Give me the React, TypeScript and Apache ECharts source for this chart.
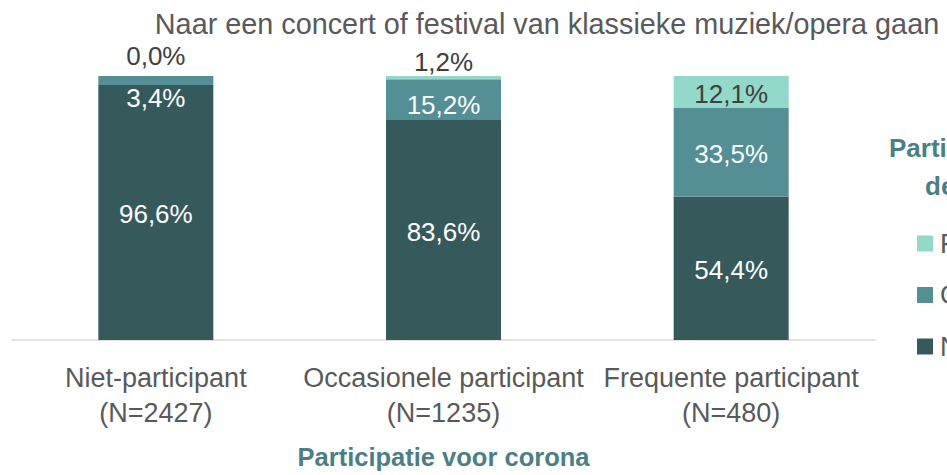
import React, { useEffect, useRef } from "react";
import * as echarts from "echarts";

const categories = ["Niet-participant\n(N=2427)", "Occasionele participant\n(N=1235)", "Frequente participant\n(N=480)"];
const seriesNames = ["Niet-participant", "Occasionele participant", "Frequente participant"];
const nietValues = [96.6, 83.6, 54.4];
const occasioneelValues = [3.4, 15.2, 33.5];
const frequentValues = [0.0, 1.2, 12.1];
const titleText = "Naar een concert of festival van klassieke muziek/opera gaan";
const xAxisTitle = "Participatie voor corona";
const legendTitleLines = ["Participatie", "deze zomer"];

const COLORS = ["#365a5c", "#558f96", "#92d9c9"];
const FONT = "'Liberation Sans', Arial, sans-serif";

const fmt = (v: number) => v.toFixed(1).replace(".", ",") + "%";

// label offsets per series, per category (styling, not data)
const labelOffsets = [
  [2, 2, 2],
  [18, 6, 1.5],
  [-20, -16, 2],
];
const labelColors = ["#ffffff", "#ffffff", "#404040"];

export default function App() {
  const ref = useRef<HTMLDivElement>(null);
  useEffect(() => {
    document.body.style.margin = "0";
    if (!ref.current) return;
    const chart = echarts.init(ref.current, undefined, { renderer: "svg" });
    const allValues = [nietValues, occasioneelValues, frequentValues];
    const series = allValues.map((vals, si) => ({
      name: seriesNames[si],
      type: "bar",
      stack: "total",
      barWidth: 115,
      itemStyle: { color: COLORS[si] },
      data: vals.map((v, ci) => ({
        value: v,
        label: {
          show: true,
          position: "inside",
          offset: [0, labelOffsets[si][ci]],
          color: labelColors[si],
          fontSize: 26,
          fontFamily: FONT,
          formatter: () => fmt(v),
        },
      })),
    }));

    chart.setOption({
      animation: false,
      textStyle: { fontFamily: FONT },
      grid: { left: 12, right: 72, top: 76, bottom: 130, containLabel: false },
      xAxis: {
        type: "category",
        data: categories,
        axisLine: { show: true, lineStyle: { color: "#d9d9d9", width: 1.5 } },
        axisTick: { show: false },
        axisLabel: {
          fontSize: 27,
          lineHeight: 35,
          color: "#595959",
          margin: 20,
          fontFamily: FONT,
          interval: 0,
        },
        name: xAxisTitle,
        nameLocation: "middle",
        nameGap: 104,
        nameTextStyle: {
          fontSize: 25.5,
          fontWeight: "bold",
          color: "#4a7f85",
          fontFamily: FONT,
        },
      },
      yAxis: {
        type: "value",
        min: 0,
        max: 100,
        show: false,
        splitLine: { show: false },
      },
      legend: {
        orient: "vertical",
        left: 917,
        top: 230,
        padding: 0,
        itemWidth: 16,
        itemHeight: 16,
        itemGap: 24.5,
        icon: "rect",
        data: [seriesNames[2], seriesNames[1], seriesNames[0]],
        textStyle: { fontSize: 27, color: "#595959", fontFamily: FONT, padding: [0, 0, 0, 2] },
      },
      graphic: [
        {
          type: "text",
          x: 547,
          y: 24,
          style: {
            text: titleText,
            fontSize: 28.8,
            fill: "#595959",
            fontFamily: FONT,
            align: "center",
            verticalAlign: "middle",
          },
        },
        {
          type: "text",
          x: 889,
          y: 148,
          style: {
            text: legendTitleLines[0],
            fontSize: 26,
            fontWeight: "bold",
            fill: "#4a7f85",
            fontFamily: FONT,
            align: "left",
            verticalAlign: "middle",
          },
        },
        {
          type: "text",
          x: 925,
          y: 186,
          style: {
            text: legendTitleLines[1],
            fontSize: 26,
            fontWeight: "bold",
            fill: "#4a7f85",
            fontFamily: FONT,
            align: "left",
            verticalAlign: "middle",
          },
        },
      ],
      series,
    });
    return () => chart.dispose();
  }, []);
  return <div ref={ref} style={{ width: 947, height: 475 }} />;
}
